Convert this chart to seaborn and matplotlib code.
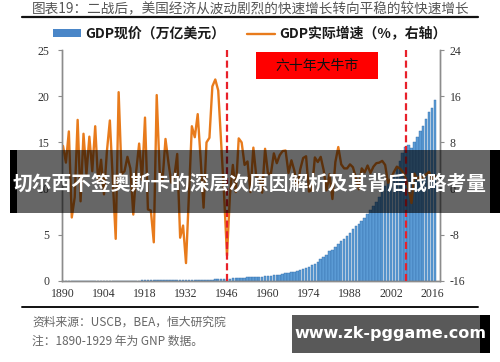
import numpy as np
import pandas as pd
import matplotlib
matplotlib.use('Agg')
import matplotlib.pyplot as plt
import seaborn as sns
from matplotlib.patches import Rectangle, Patch
from matplotlib.lines import Line2D

# GDP nominal, trillion USD (1890-1928 GNP)
years = list(range(1890, 2018))
gdp_nominal = [
    0.013, 0.013, 0.014, 0.013, 0.012, 0.014, 0.013, 0.014, 0.015, 0.017,
    0.019, 0.021, 0.022, 0.023, 0.023, 0.025, 0.028, 0.030, 0.027, 0.032,
    0.033, 0.034, 0.037, 0.039, 0.037, 0.040, 0.048, 0.060, 0.076, 0.084,
    0.091, 0.070, 0.074, 0.086, 0.084, 0.094, 0.097, 0.095, 0.098,
    0.105, 0.092, 0.078, 0.060, 0.057, 0.067, 0.074, 0.085, 0.094, 0.088,
    0.094, 0.103, 0.130, 0.166, 0.204, 0.225, 0.228, 0.228, 0.250, 0.274,
    0.272, 0.300, 0.346, 0.367, 0.389, 0.391, 0.426, 0.451, 0.474, 0.482,
    0.522, 0.543, 0.562, 0.603, 0.637, 0.685, 0.742, 0.813, 0.860, 0.940,
    1.018, 1.073, 1.165, 1.280, 1.425, 1.545, 1.684, 1.873, 2.082, 2.352,
    2.627, 2.857, 3.207, 3.344, 3.634, 4.037, 4.339, 4.579, 4.855, 5.236,
    5.642, 5.963, 6.159, 6.520, 6.859, 7.287, 7.640, 8.073, 8.577, 9.063,
    9.631, 10.253, 10.582, 10.936, 11.458, 12.214, 13.037, 13.815, 14.452, 14.713,
    14.449, 14.992, 15.543, 16.197, 16.785, 17.527, 18.238, 18.745, 19.543,
]

# real growth, %
gdp_growth = [
    7.4, 4.5, 9.9, -5.0, -1.5, 11.9, -2.2, 9.5, 2.5, 9.0,
    3.0, 10.8, 1.0, 5.0, -1.0, 6.5, 11.8, 1.5, -8.7, 16.7,
    2.5, 3.0, 5.5, 3.5, -4.5, 3.0, 7.8, 1.5, 12.3, -3.6,
    -3.8, -9.3, 16.2, 3.0, 1.5, 8.6, 4.5, 1.0, 2.0, 6.0,
    -8.5, -6.4, -12.9, -1.2, 10.8, 8.9, 12.9, 5.1, -3.3, 8.0,
    8.8, 17.7, 18.9, 17.0, 8.0, -1.0, -11.6, -1.1, 4.1, -0.6,
    8.7, 8.0, 4.1, 4.7, -0.6, 7.1, 2.1, 2.1, -0.7, 6.9,
    2.6, 2.6, 6.1, 4.4, 5.8, 6.5, 6.6, 2.7, 4.9, 3.1,
    0.2, 3.3, 5.3, 5.6, -0.5, -0.2, 5.4, 4.6, 5.5, 3.2,
    -0.3, 2.5, -1.8, 4.6, 7.2, 4.2, 3.5, 3.5, 4.2, 3.7,
    1.9, -0.1, 3.5, 2.8, 4.0, 2.7, 3.8, 4.4, 4.5, 4.8,
    4.1, 1.0, 1.7, 2.9, 3.8, 3.5, 2.9, 1.9, -0.1, -2.5,
    2.6, 1.6, 2.2, 1.8, 2.5, 2.9, 1.6, 2.2,
]

x_ticks = list(range(1890, 2017, 14))
left_ticks = [0, 5, 10, 15, 20, 25]
right_ticks = [-16, -8, 0, 8, 16, 24]
marker_years = [1946, 2007]

df = pd.DataFrame({'year': years, 'gdp': gdp_nominal, 'growth': gdp_growth})

sns.set_style('white')
plt.rcParams['font.family'] = ['Noto Sans CJK SC', 'DejaVu Sans']
plt.rcParams['axes.unicode_minus'] = False

cjk = ['Noto Sans CJK SC', 'DejaVu Sans']
serif = 'Liberation Serif'
bar_color = '#5b9bd5'
line_color = '#e87b1c'

fig = plt.figure(figsize=(5, 3.62), dpi=100)
ax = fig.add_axes([0.124, 0.2238, 0.756, 0.638])

sns.barplot(data=df, x='year', y='gdp', native_scale=True, ax=ax,
            color=bar_color, saturation=1, width=0.85, errorbar=None,
            edgecolor='#3570ad', linewidth=0.3)

ax2 = ax.twinx()
sns.lineplot(data=df, x='year', y='growth', ax=ax2, color=line_color, lw=1.7)

for yr in marker_years:
    ax2.axvline(yr, color='#e8202a', lw=1.6, ls=(0, (3.2, 1.6)), zorder=5)

ax.set_xlim(1889.66, 2018.73)
ax.set_ylim(0, 25)
ax2.set_ylim(-16, 24)
ax.set_xticks(x_ticks)
ax.set_yticks(left_ticks)
ax2.set_yticks(right_ticks)
ax.set_xlabel('')
ax.set_ylabel('')
ax2.set_xlabel('')
ax2.set_ylabel('')

for a in (ax, ax2):
    for s in ('top',):
        a.spines[s].set_visible(False)
    for s in ('left', 'right', 'bottom'):
        a.spines[s].set_color('#8c8c8c')
        a.spines[s].set_linewidth(1.0)
    a.tick_params(length=3, width=0.8, color='#8c8c8c', labelsize=8.5,
                  labelcolor='#333333', pad=2)
    for lab in a.get_xticklabels() + a.get_yticklabels():
        lab.set_fontfamily(serif)
ax.tick_params(axis='y', pad=6)
ax2.tick_params(axis='y', pad=4)

# legend
handles = [Patch(facecolor='#4a86c8', edgecolor='none'),
           Line2D([], [], color=line_color, lw=1.7)]
labels = ['GDP现价（万亿美元）', 'GDP实际增速（%，右轴）']
fig.legend(handles, labels, loc='center', bbox_to_anchor=(0.5, 0.906), ncol=2,
           frameon=False, handlelength=2.0, handleheight=0.45, handletextpad=0.3,
           columnspacing=1.6, prop=dict(family=cjk, weight='bold', size=10),
           labelcolor='#1a1a1a')

# red annotation box
fig.patches.append(Rectangle((0.512, 0.7818), 0.244, 0.0746, transform=fig.transFigure,
                             facecolor='#ff0000', edgecolor='none', zorder=3))
fig.text(0.634, 0.8191, '六十年大牛市', ha='center', va='center', fontsize=10,
         family=cjk, weight='medium', color='#111111', zorder=4)

# title and rules
fig.text(0.502, 0.975, '图表19：二战后，美国经济从波动剧烈的快速增长转向平稳的较快速增长',
         ha='center', va='center', fontsize=9.8, family=cjk, color='#555555')
fig.add_artist(Line2D([0.044, 0.956], [0.954, 0.954], transform=fig.transFigure,
                      color='#111111', lw=1.6))
fig.add_artist(Line2D([0.044, 0.956], [0.152, 0.152], transform=fig.transFigure,
                      color='#111111', lw=1.4))

# source notes
fig.text(0.064, 0.110, '资料来源：USCB，BEA，恒大研究院', ha='left', va='center',
         fontsize=8.5, family=cjk, color='#666666')
fig.text(0.064, 0.058, '注：1890-1929 年为 GNP 数据。', ha='left', va='center',
         fontsize=8.5, family=cjk, color='#666666')

# overlay banner
fig.patches.append(Rectangle((0.020, 0.4116), 0.014, 0.174, transform=fig.transFigure,
                             facecolor='black', edgecolor='none', zorder=20))
fig.patches.append(Rectangle((0.034, 0.4116), 0.946, 0.174, transform=fig.transFigure,
                             facecolor='black', alpha=0.6, edgecolor='none', zorder=20))
fig.patches.append(Rectangle((0.980, 0.4116), 0.020, 0.174, transform=fig.transFigure,
                             facecolor='black', edgecolor='none', zorder=20))
fig.text(0.5, 0.492, '切尔西不签奥斯卡的深层次原因解析及其背后战略考量', ha='center',
         va='center', fontsize=14.2, family=cjk, weight='bold', color='white', zorder=21)

# watermark
fig.patches.append(Rectangle((0.584, 0.025), 0.376, 0.105, transform=fig.transFigure,
                             facecolor='black', alpha=0.65, edgecolor='none', zorder=20))
fig.patches.append(Rectangle((0.960, 0.025), 0.020, 0.105, transform=fig.transFigure,
                             facecolor='black', edgecolor='none', zorder=20))
fig.text(0.780, 0.080, 'www.zk-pggame.com', ha='center', va='center', fontsize=11.5,
         family='DejaVu Sans', weight='bold', color='white', zorder=21)

fig.savefig('out.png', dpi=100)
